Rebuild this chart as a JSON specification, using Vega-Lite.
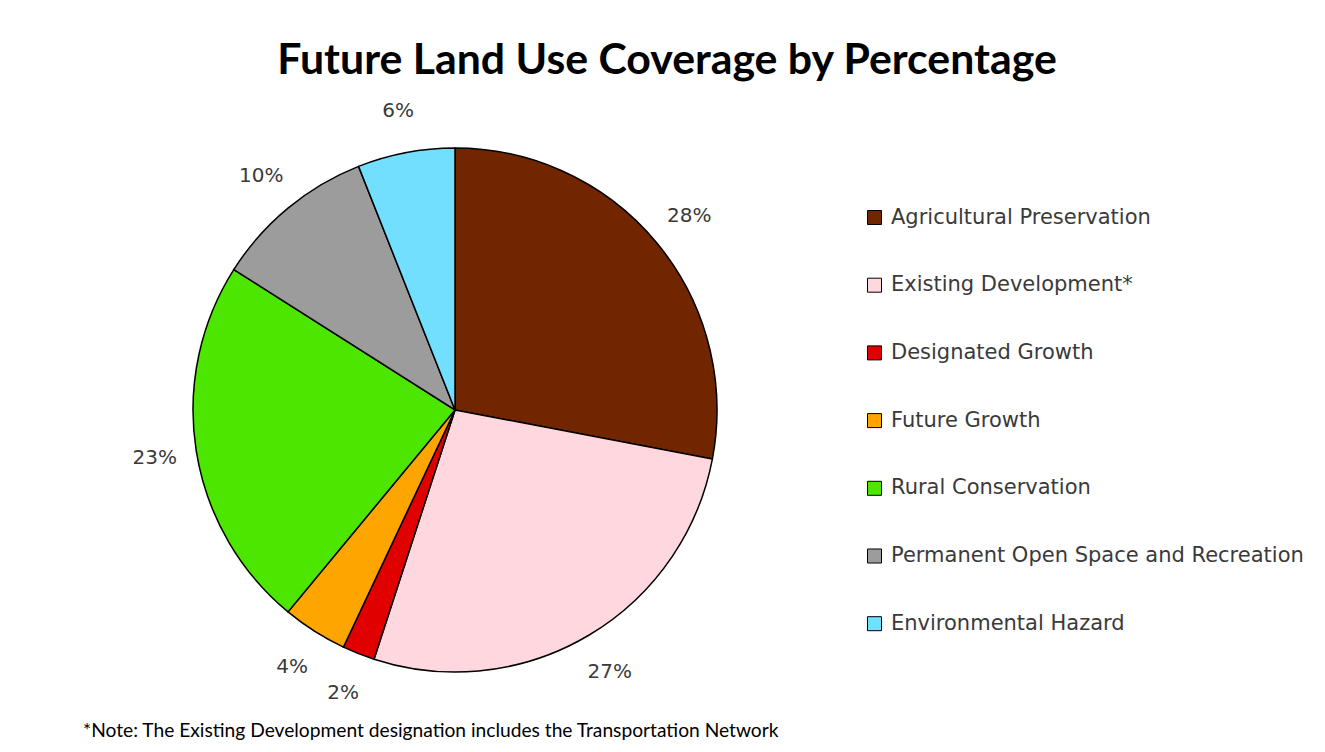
{
  "$schema": "https://vega.github.io/schema/vega-lite/v6.json",
  "autosize": {"type": "pad"},
  "padding": {"left": 0, "top": 39, "right": 0, "bottom": 0},
  "background": "white",
  "title": {
    "text": "Future Land Use Coverage by Percentage",
    "font": "Lato",
    "fontSize": 42.8,
    "fontWeight": "bold",
    "color": "#000000",
    "anchor": "middle",
    "frame": "bounds",
    "offset": 19,
    "dx": 15
  },
  "data": {
    "values": [
      {"category": "Agricultural Preservation", "share": 0.28, "rank": 1},
      {"category": "Existing Development*", "share": 0.27, "rank": 2},
      {"category": "Designated Growth", "share": 0.02, "rank": 3},
      {"category": "Future Growth", "share": 0.04, "rank": 4},
      {"category": "Rural Conservation", "share": 0.23, "rank": 5},
      {"category": "Permanent Open Space and Recreation", "share": 0.10, "rank": 6},
      {"category": "Environmental Hazard", "share": 0.06, "rank": 7}
    ]
  },
  "vconcat": [
    {
      "width": 910,
      "height": 600,
      "title": {
        "text": "*Note: The Existing Development designation includes the Transportation Network",
        "orient": "bottom",
        "anchor": "start",
        "frame": "group",
        "dx": 83,
        "offset": 12,
        "font": "Lato",
        "fontSize": 19.2,
        "fontWeight": "normal",
        "color": "#000000"
      },
      "encoding": {
        "theta": {"field": "share", "type": "quantitative", "stack": true},
        "order": {"field": "rank", "type": "quantitative"}
      },
      "layer": [
        {
          "mark": {"type": "arc", "outerRadius": 262, "stroke": "#000000", "strokeWidth": 1.5},
          "encoding": {
            "color": {
              "field": "category",
              "type": "nominal",
              "scale": {
                "domain": ["Agricultural Preservation", "Existing Development*", "Designated Growth", "Future Growth", "Rural Conservation", "Permanent Open Space and Recreation", "Environmental Hazard"],
                "range": ["#722600", "#FFD7DE", "#E00000", "#FFA500", "#4CE600", "#9C9C9C", "#73DFFF"]
              },
              "legend": {
                "orient": "none",
                "legendX": 864,
                "legendY": 97,
                "title": null,
                "padding": 0,
                "symbolType": "square",
                "symbolSize": 196,
                "symbolStrokeColor": "#000000",
                "symbolStrokeWidth": 1,
                "labelFont": "DejaVu Sans",
                "labelFontSize": 21,
                "labelColor": "#3a3a3a",
                "labelOffset": 6,
                "labelLimit": 500,
                "rowPadding": 45.7
              }
            }
          }
        },
        {
          "mark": {"type": "text", "radius": 304, "font": "DejaVu Sans", "fontSize": 20, "color": "#3a3a3a"},
          "encoding": {
            "text": {"field": "share", "type": "quantitative", "format": ".0%"}
          }
        }
      ]
    }
  ],
  "config": {
    "view": {"stroke": null}
  }
}
